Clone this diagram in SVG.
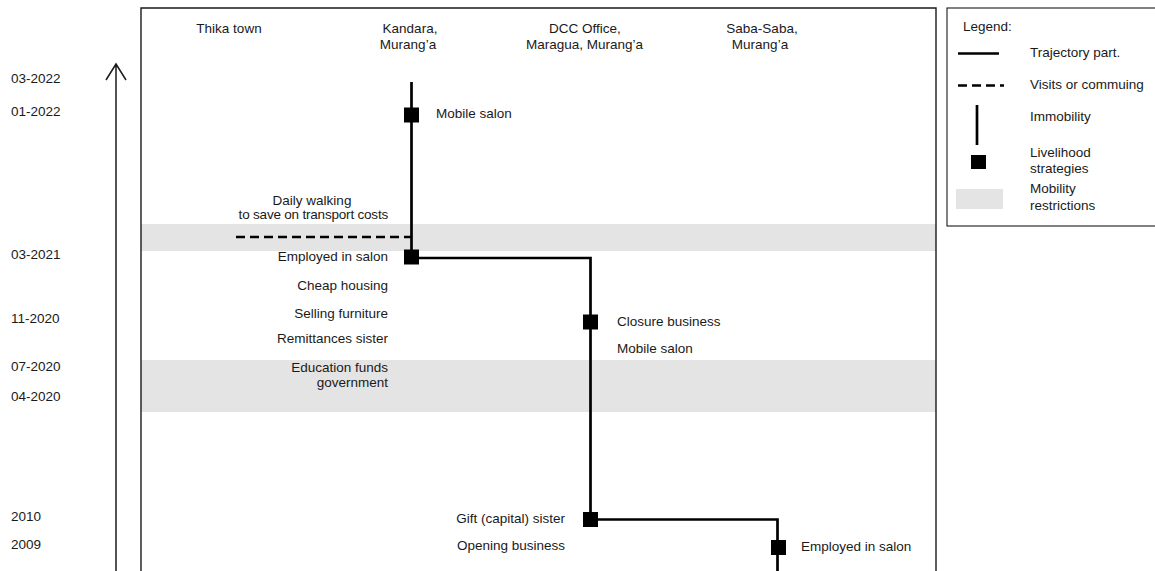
<svg xmlns="http://www.w3.org/2000/svg" width="1155" height="571" viewBox="0 0 1155 571">
  <style>
    text { font-family: "Liberation Sans", Arial, sans-serif; font-size: 13.5px; fill: #1a1a1a; }
    .end { text-anchor: end; }
    .mid { text-anchor: middle; }
    .band { fill: #e4e4e4; }
    .frame { fill: none; stroke: #1a1a1a; stroke-width: 1.4; }
    .traj { fill: none; stroke: #000; stroke-width: 2.7; stroke-linejoin: miter; }
    .visit { fill: none; stroke: #000; stroke-width: 2.7; stroke-dasharray: 9 5; }
    .strat { fill: #000; }
    .axis { fill: none; stroke: #1a1a1a; stroke-width: 1.5; }
  </style>
  <defs>
    <rect id="sq" x="-7.5" y="-7.5" width="15" height="15" class="strat"/>
  </defs>

  <rect width="1155" height="571" fill="#fff"/>

  <!-- mobility restriction periods -->
  <g id="restrictions">
    <rect class="band" x="141" y="224" width="795" height="27"/>
    <rect class="band" x="141" y="360" width="795" height="52"/>
  </g>

  <!-- chart frame -->
  <path class="frame" d="M141 571 V8 H936 V571"/>

  <!-- time axis -->
  <g id="time-axis">
    <path class="axis" d="M116 571 V64 M106 80 L116 64 L126 80"/>
    <text x="11" y="83">03-2022</text>
    <text x="11" y="116">01-2022</text>
    <text x="11" y="259">03-2021</text>
    <text x="11" y="323">11-2020</text>
    <text x="11" y="371">07-2020</text>
    <text x="11" y="401">04-2020</text>
    <text x="11" y="521">2010</text>
    <text x="11" y="549">2009</text>
  </g>

  <!-- places -->
  <g id="place-thika"><text class="mid" x="229" y="33">Thika town</text></g>
  <g id="place-kandara">
    <text class="mid" x="410" y="33">Kandara,</text>
    <text class="mid" x="408" y="49">Murang’a</text>
  </g>
  <g id="place-dcc">
    <text class="mid" x="585" y="33">DCC Office,</text>
    <text class="mid" x="584.5" y="49">Maragua, Murang’a</text>
  </g>
  <g id="place-saba">
    <text class="mid" x="762" y="33">Saba-Saba,</text>
    <text class="mid" x="760" y="49">Murang’a</text>
  </g>

  <!-- trajectory -->
  <g id="connectors">
    <path class="traj" d="M777.5 571 V519.5 H590.5 V258 H411.5 V82"/>
    <path class="visit" d="M236 237 H411"/>
  </g>

  <!-- livelihood strategies -->
  <g id="s-2022">
    <use href="#sq" x="411.5" y="115"/>
    <text x="436" y="118">Mobile salon</text>
  </g>
  <g id="s-walking">
    <text class="mid" x="312" y="205">Daily walking</text>
    <text class="end" x="388" y="219" letter-spacing="-0.2">to save on transport costs</text>
  </g>
  <g id="s-2021">
    <use href="#sq" x="411.5" y="257"/>
    <text class="end" x="388" y="261">Employed in salon</text>
    <text class="end" x="388" y="290">Cheap housing</text>
    <text class="end" x="388" y="318">Selling furniture</text>
    <text class="end" x="388" y="343">Remittances sister</text>
    <text class="end" x="388" y="372">Education funds</text>
    <text class="end" x="388" y="387">government</text>
  </g>
  <g id="s-2020">
    <use href="#sq" x="590.5" y="322"/>
    <text x="617" y="326">Closure business</text>
    <text x="617" y="353">Mobile salon</text>
  </g>
  <g id="s-2010">
    <use href="#sq" x="590.5" y="519.5"/>
    <text class="end" x="565" y="523">Gift (capital) sister</text>
    <text class="end" x="565" y="550">Opening business</text>
  </g>
  <g id="s-2009">
    <use href="#sq" x="778.5" y="547.5"/>
    <text x="801" y="551">Employed in salon</text>
  </g>

  <!-- legend -->
  <g id="legend">
    <rect x="947" y="8" width="220" height="218" fill="#fff" stroke="#1a1a1a" stroke-width="1.1"/>
    <text x="963" y="31">Legend:</text>
    <path class="traj" d="M958 53.5 H999"/>
    <text x="1030" y="57">Trajectory part.</text>
    <path class="visit" d="M958 85.5 H1004" stroke-dasharray="8 7"/>
    <text x="1030" y="89">Visits or commuing</text>
    <path class="traj" d="M977 105 V145"/>
    <text x="1030" y="121">Immobility</text>
    <rect class="strat" x="971" y="155" width="15" height="14"/>
    <text x="1030" y="157">Livelihood</text>
    <text x="1030" y="173">strategies</text>
    <rect class="band" x="956" y="189" width="47" height="20"/>
    <text x="1030" y="193">Mobility</text>
    <text x="1030" y="210">restrictions</text>
  </g>
</svg>
